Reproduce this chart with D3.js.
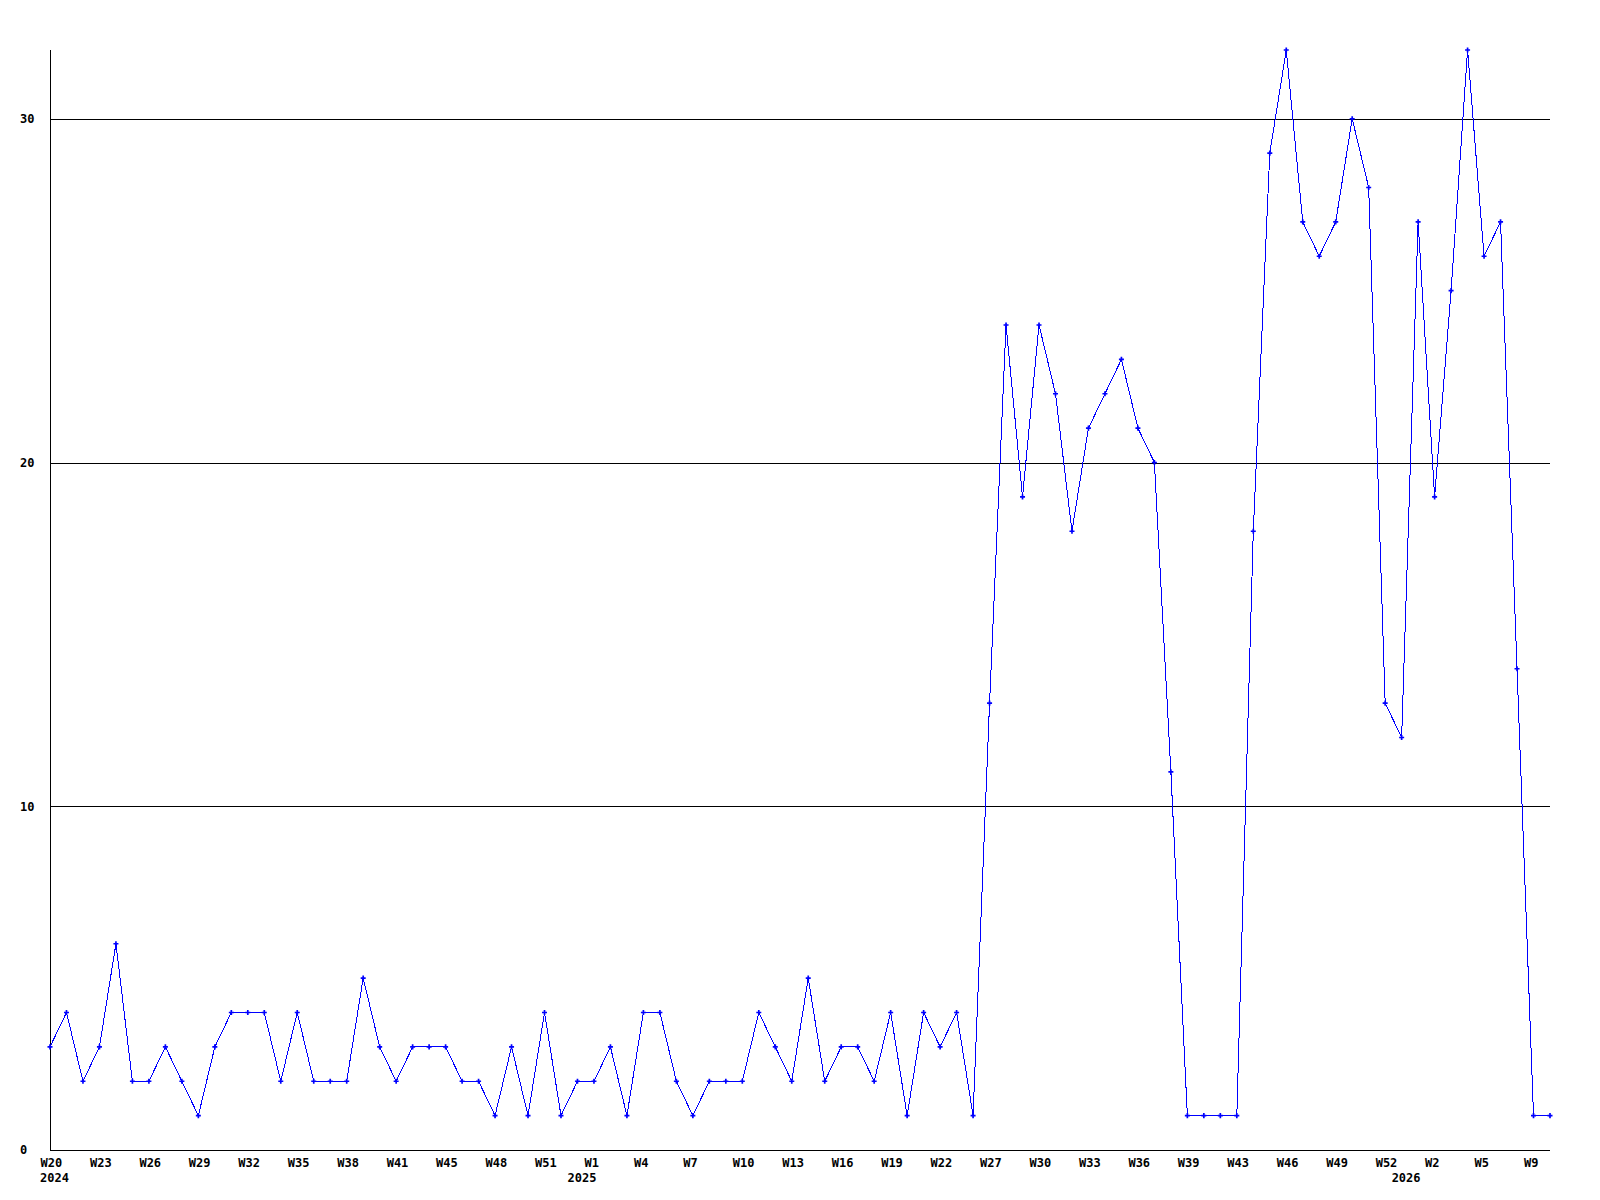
<!DOCTYPE html>
<html>
<head>
<meta charset="utf-8">
<script src="https://cdn.jsdelivr.net/npm/d3@7"></script>
<style>
    body { margin: 0; background: #fff; }
    svg text { font-family: "DejaVu Sans Mono", monospace; font-weight: bold; font-size: 12px; fill: #000; }
</style>
</head>
<body>
<script>
// weekly counts, one per point (92 points)
const counts = [
    3, 4, 2, 3, 6, 2, 2, 3, 2, 1,
    3, 4, 4, 4, 2, 4, 2, 2, 2, 5,
    3, 2, 3, 3, 3, 2, 2, 1, 3, 1,
    4, 1, 2, 2, 3, 1, 4, 4, 2, 1,
    2, 2, 2, 4, 3, 2, 5, 2, 3, 3,
    2, 4, 1, 4, 3, 4, 1, 13, 24, 19,
    24, 22, 18, 21, 22, 23, 21, 20, 11, 1,
    1, 1, 1, 18, 29, 32, 27, 26, 27, 30,
    28, 13, 12, 27, 19, 25, 32, 26, 27, 14,
    1, 1
]

// a week label on every third point
const weekLabels = ['W20', 'W23', 'W26', 'W29', 'W32', 'W35', 'W38', 'W41', 'W45', 'W48',
    'W51', 'W1', 'W4', 'W7', 'W10', 'W13', 'W16', 'W19', 'W22', 'W27',
    'W30', 'W33', 'W36', 'W39', 'W43', 'W46', 'W49', 'W52', 'W2', 'W5', 'W9']
const labelStep = 3

const years = ['2024', '2025', '2026']
const yearStart = [0, 32, 82]

const yTicks = [0, 10, 20, 30]

const margin = {
        top: 50,
        right: 50,
        bottom: 50,
        left: 50
    },
    width = 1600 - margin.left - margin.right,
    height = 1200 - margin.top - margin.bottom

const svg = d3.select('body').append('svg')
    .attr('width', width + margin.left + margin.right)
    .attr('height', height + margin.top + margin.bottom)
    .append('g')
    .attr('transform', 'translate(' + margin.left + ',' + margin.top + ')')

const x = d3.scalePoint()
    .domain(d3.range(counts.length))
    .range([0, width])

const y = d3.scaleLinear()
    .domain([0, d3.max(counts)])
    .range([height, 0])

// grid + y labels
const yAxis = svg.append('g')
    .call(d3.axisLeft(y).tickValues(yTicks).tickSize(-width).tickSizeOuter(0).tickFormat(d3.format('d')))
yAxis.select('.domain').remove()
yAxis.selectAll('.tick line')
    .attr('stroke', '#000')
    .attr('shape-rendering', 'crispEdges')
yAxis.selectAll('.tick text')
    .attr('x', -30)
    .attr('text-anchor', 'start')

// axis lines
svg.append('line')
    .attr('x1', 0).attr('x2', 0)
    .attr('y1', 0).attr('y2', height)
    .attr('stroke', '#000')
    .attr('shape-rendering', 'crispEdges')
svg.append('line')
    .attr('x1', 0).attr('x2', width)
    .attr('y1', height).attr('y2', height)
    .attr('stroke', '#000')
    .attr('shape-rendering', 'crispEdges')

// week labels
const xAxis = svg.append('g')
    .attr('transform', 'translate(0,' + height + ')')
    .call(d3.axisBottom(x)
        .tickValues(weekLabels.map((d, i) => i * labelStep))
        .tickFormat(i => weekLabels[i / labelStep])
        .tickSize(0))
xAxis.select('.domain').remove()
xAxis.selectAll('.tick text')
    .attr('x', -10)
    .attr('y', 16.5)
    .attr('dy', null)
    .attr('text-anchor', 'start')

// year labels
svg.append('g')
    .selectAll('text')
    .data(years)
    .enter().append('text')
    .attr('x', (d, i) => x(yearStart[i]) - 10)
    .attr('y', height + 32)
    .text(d => d)

// the series
const line = d3.line()
    .x((d, i) => x(i))
    .y(d => y(d))

svg.append('path')
    .datum(counts)
    .attr('fill', 'none')
    .attr('stroke', '#0000ff')
    .attr('stroke-width', 1)
    .attr('shape-rendering', 'crispEdges')
    .attr('d', line)

svg.append('g')
    .selectAll('path')
    .data(counts)
    .enter().append('path')
    .attr('transform', (d, i) => 'translate(' + x(i) + ',' + y(d) + ')')
    .attr('d', d3.symbol(d3.symbolCross, 14))
    .attr('fill', '#0000ff')
</script>
</body>
</html>
